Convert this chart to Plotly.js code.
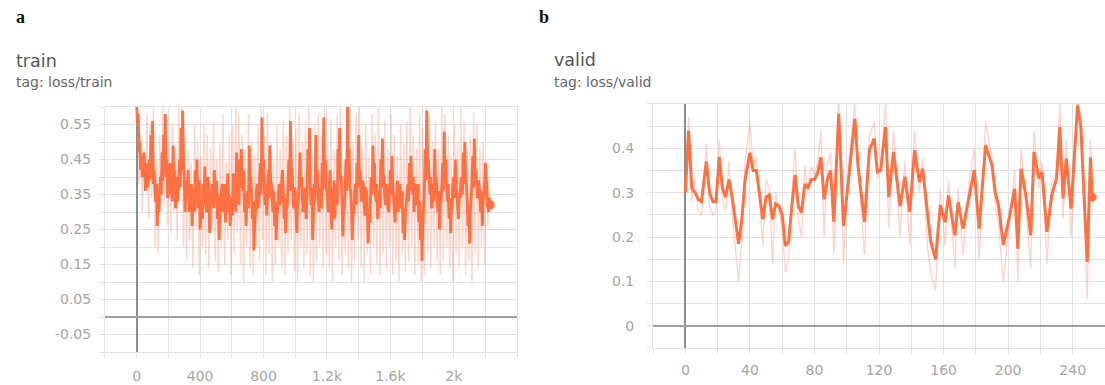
<!DOCTYPE html>
<html><head><meta charset="utf-8">
<script src="https://cdn.plot.ly/plotly-3.0.1.min.js"></script>
<style>html,body{margin:0;padding:0;background:#fff;} #chart{width:1105px;height:385px;}</style>
</head><body><div id="chart"></div>
<script>
// ---- train (panel a): smoothed loss, logged every 5 steps from step 0
const trainSmoothed = [
0.60,0.55,0.58,0.47,0.50,0.42,0.46,0.40,0.43,0.47,0.44,0.36,0.40,0.44,0.37,0.41,0.45,0.39,0.52,0.44,
0.56,0.38,0.42,0.36,0.33,0.38,0.26,0.35,0.30,0.37,0.40,0.35,0.47,0.39,0.52,0.41,0.58,0.40,0.45,0.34,
0.38,0.41,0.44,0.35,0.40,0.33,0.49,0.37,0.42,0.31,0.36,0.40,0.33,0.38,0.45,0.37,0.54,0.42,0.59,0.45,
0.40,0.30,0.34,0.39,0.38,0.42,0.30,0.37,0.33,0.38,0.26,0.32,0.37,0.30,0.42,0.34,0.45,0.31,0.35,0.39,
0.25,0.31,0.33,0.28,0.38,0.32,0.43,0.33,0.30,0.36,0.40,0.33,0.24,0.36,0.32,0.38,0.37,0.31,0.42,0.35,
0.33,0.39,0.28,0.35,0.22,0.31,0.30,0.36,0.38,0.30,0.33,0.38,0.27,0.32,0.36,0.41,0.30,0.35,0.26,0.31,
0.34,0.29,0.41,0.33,0.36,0.30,0.47,0.35,0.38,0.32,0.45,0.37,0.48,0.39,0.36,0.42,0.30,0.35,0.26,0.33,
0.36,0.31,0.49,0.38,0.40,0.34,0.28,0.33,0.19,0.27,0.30,0.36,0.38,0.31,0.33,0.39,0.44,0.35,0.57,0.41,
0.45,0.37,0.32,0.38,0.29,0.35,0.42,0.34,0.49,0.39,0.38,0.33,0.30,0.36,0.26,0.33,0.22,0.30,0.30,0.36,
0.38,0.32,0.34,0.39,0.42,0.35,0.28,0.34,0.24,0.31,0.32,0.38,0.45,0.36,0.56,0.42,0.42,0.36,0.31,0.37,
0.36,0.30,0.24,0.32,0.33,0.39,0.47,0.38,0.40,0.34,0.30,0.37,0.36,0.31,0.28,0.35,0.48,0.40,0.54,0.38,
0.32,0.37,0.22,0.30,0.38,0.33,0.52,0.40,0.42,0.35,0.30,0.37,0.35,0.31,0.44,0.36,0.57,0.42,0.45,0.37,
0.36,0.32,0.30,0.37,0.42,0.34,0.25,0.32,0.34,0.39,0.28,0.35,0.38,0.32,0.48,0.39,0.54,0.40,0.40,0.33,
0.23,0.30,0.31,0.37,0.45,0.36,0.60,0.43,0.48,0.37,0.36,0.31,0.22,0.30,0.30,0.36,0.38,0.32,0.44,0.37,
0.52,0.39,0.42,0.34,0.33,0.39,0.38,0.32,0.29,0.37,0.36,0.30,0.21,0.29,0.27,0.34,0.40,0.35,0.49,0.38,
0.44,0.36,0.33,0.38,0.28,0.34,0.36,0.31,0.45,0.37,0.51,0.40,0.40,0.34,0.32,0.38,0.36,0.31,0.30,0.36,
0.42,0.35,0.46,0.38,0.35,0.30,0.27,0.34,0.34,0.39,0.30,0.36,0.38,0.33,0.31,0.36,0.24,0.31,0.22,0.29,
0.32,0.37,0.38,0.33,0.44,0.36,0.46,0.38,0.35,0.40,0.30,0.36,0.38,0.32,0.33,0.38,0.27,0.33,0.22,0.30,
0.16,0.26,0.30,0.37,0.48,0.39,0.59,0.44,0.45,0.37,0.35,0.40,0.31,0.36,0.38,0.33,0.48,0.38,0.40,0.34,
0.30,0.36,0.25,0.32,0.33,0.38,0.44,0.36,0.53,0.41,0.45,0.37,0.33,0.38,0.28,0.34,0.24,0.31,0.32,0.38,
0.40,0.34,0.45,0.37,0.36,0.31,0.28,0.35,0.34,0.39,0.40,0.35,0.47,0.38,0.50,0.40,0.38,0.33,0.26,0.32,
0.21,0.30,0.34,0.39,0.46,0.37,0.51,0.40,0.42,0.35,0.34,0.39,0.38,0.33,0.30,0.36,0.26,0.32,0.35,0.39,
0.44,0.37,0.36,0.32,0.30,0.34,0.32];
// raw (unsmoothed) train loss, logged every 10 steps from step 5
const trainRaw = [
0.60,0.38,0.52,0.30,0.48,0.36,0.58,0.28,0.55,0.34,
0.60,0.20,0.45,0.18,0.52,0.30,0.60,0.32,0.58,0.26,
0.50,0.24,0.55,0.30,0.48,0.22,0.60,0.36,0.60,0.20,
0.52,0.16,0.48,0.22,0.44,0.14,0.55,0.25,0.50,0.12,
0.46,0.20,0.55,0.18,0.52,0.14,0.48,0.26,0.56,0.16,
0.45,0.13,0.50,0.20,0.58,0.15,0.44,0.22,0.52,0.12,
0.55,0.18,0.60,0.24,0.58,0.15,0.52,0.10,0.48,0.20,
0.58,0.14,0.50,0.12,0.46,0.20,0.55,0.16,0.60,0.22,
0.52,0.12,0.58,0.18,0.50,0.10,0.44,0.15,0.55,0.20,
0.48,0.14,0.56,0.12,0.52,0.18,0.60,0.22,0.50,0.13,
0.54,0.10,0.58,0.20,0.50,0.14,0.56,0.18,0.60,0.12,
0.46,0.10,0.55,0.16,0.58,0.20,0.52,0.14,0.60,0.18,
0.50,0.14,0.56,0.10,0.48,0.20,0.58,0.16,0.60,0.12,
0.44,0.18,0.55,0.14,0.60,0.10,0.50,0.16,0.58,0.22,
0.60,0.14,0.48,0.10,0.55,0.18,0.46,0.12,0.58,0.20,
0.52,0.15,0.60,0.12,0.50,0.18,0.56,0.14,0.48,0.20,
0.58,0.12,0.52,0.16,0.46,0.10,0.55,0.18,0.50,0.13,
0.56,0.16,0.60,0.20,0.52,0.12,0.48,0.15,0.58,0.10,
0.54,0.12,0.60,0.18,0.58,0.14,0.50,0.20,0.56,0.16,
0.48,0.12,0.60,0.16,0.58,0.20,0.52,0.14,0.46,0.10,
0.55,0.18,0.50,0.14,0.60,0.20,0.56,0.12,0.48,0.16,
0.52,0.10,0.58,0.18,0.55,0.14,0.48,0.20,0.50,0.15,
0.45,0.26,0.40];
const trainSmoothStart = 0, trainSmoothEvery = 5;
const trainRawStart = 5, trainRawEvery = 10;

// ---- valid (panel b)
const validSteps = [0,2,4,6,8,10,13,15,17,19,21,23,25,27,29,31,33,35,37,40,42,44,46,48,50,52,54,56,58,60,62,64,66,68,70,72,74,76,78,80,82,84,86,88,90,92,95,98,101,105,107,111,114,117,119,121,124,126,129,133,136,139,142,145,147,150,152,155,158,161,163,167,169,172,176,179,182,186,190,192,194,197,201,204,206,208,211,214,216,219,221,224,227,230,232,234,236,239,243,245,249,251,252];
const validSmoothed = [
0.30,0.44,0.31,0.30,0.285,0.28,0.37,0.30,0.28,0.28,
0.38,0.31,0.29,0.33,0.29,0.24,0.185,0.24,0.33,0.39,
0.35,0.35,0.30,0.24,0.29,0.295,0.24,0.275,0.27,0.25,
0.18,0.19,0.27,0.34,0.27,0.255,0.32,0.31,0.33,0.33,
0.345,0.38,0.285,0.33,0.35,0.235,0.478,0.225,0.325,0.467,
0.36,0.234,0.396,0.422,0.347,0.35,0.448,0.29,0.392,0.27,
0.336,0.257,0.396,0.324,0.354,0.25,0.19,0.15,0.272,0.234,
0.294,0.204,0.279,0.219,0.294,0.351,0.219,0.407,0.362,0.30,
0.272,0.182,0.249,0.309,0.174,0.354,0.294,0.204,0.392,0.332,
0.347,0.212,0.294,0.332,0.448,0.287,0.377,0.264,0.497,0.45,
0.144,0.38,0.29];
const validRaw = [
0.30,0.47,0.28,0.33,0.26,0.25,0.41,0.27,0.25,0.26,
0.42,0.28,0.26,0.37,0.25,0.18,0.10,0.20,0.37,0.46,
0.36,0.38,0.27,0.18,0.33,0.31,0.14,0.30,0.26,0.22,
0.12,0.15,0.30,0.40,0.24,0.20,0.36,0.30,0.36,0.34,
0.37,0.44,0.20,0.36,0.39,0.16,0.52,0.14,0.36,0.50,
0.35,0.16,0.43,0.46,0.33,0.36,0.50,0.22,0.44,0.20,
0.37,0.18,0.44,0.30,0.38,0.18,0.12,0.08,0.31,0.18,
0.33,0.13,0.31,0.16,0.33,0.40,0.15,0.46,0.38,0.27,
0.23,0.10,0.24,0.35,0.10,0.40,0.27,0.13,0.44,0.31,
0.37,0.14,0.32,0.35,0.50,0.24,0.42,0.20,0.52,0.44,
0.06,0.42,0.29];

// ---- tick labels
const trainXTickVals = [0,400,800,1200,1600,2000];
const trainXTickText = ["0","400","800","1.2k","1.6k","2k"];
const trainYTickVals = [-0.05,0.05,0.15,0.25,0.35,0.45,0.55];
const trainYTickText = ["-0.05","0.05","0.15","0.25","0.35","0.45","0.55"];
const validXTickVals = [0,40,80,120,160,200,240];
const validXTickText = ["0","40","80","120","160","200","240"];
const validYTickVals = [0,0.1,0.2,0.3,0.4];
const validYTickText = ["0","0.1","0.2","0.3","0.4"];

const ORANGE = '#ff7043';
const RAW = 'rgba(255,120,90,0.32)';
const GRID = '#e2e2e2';
const tickFont = {family: 'DejaVu Sans, sans-serif', size: 14, color: '#a6a6a6'};

const trainLastX = trainSmoothStart + (trainSmoothed.length - 1) * trainSmoothEvery;
const traces = [
  {type:'scatter', mode:'lines', x0: trainRawStart, dx: trainRawEvery, y: trainRaw,
   line:{color:RAW, width:1.4}, xaxis:'x', yaxis:'y', hoverinfo:'skip'},
  {type:'scatter', mode:'lines', x0: trainSmoothStart, dx: trainSmoothEvery, y: trainSmoothed,
   line:{color:ORANGE, width:2.8}, xaxis:'x', yaxis:'y'},
  {type:'scatter', mode:'markers', x:[trainLastX], y:[trainSmoothed[trainSmoothed.length-1]],
   marker:{color:ORANGE, size:9}, xaxis:'x', yaxis:'y'},
  {type:'scatter', mode:'lines', x: validSteps, y: validRaw,
   line:{color:RAW, width:1.4}, xaxis:'x2', yaxis:'y2', hoverinfo:'skip'},
  {type:'scatter', mode:'lines', x: validSteps, y: validSmoothed,
   line:{color:ORANGE, width:3}, xaxis:'x2', yaxis:'y2'},
  {type:'scatter', mode:'markers', x:[validSteps[validSteps.length-1]], y:[validSmoothed[validSmoothed.length-1]],
   marker:{color:ORANGE, size:9}, xaxis:'x2', yaxis:'y2'}
];

function axisBase(extra){
  return Object.assign({
    showgrid:true, gridcolor:GRID, gridwidth:1,
    showline:true, mirror:true, linecolor:GRID, linewidth:1,
    ticks:'outside', ticklen:5, tickcolor:GRID,
    tickfont: tickFont, tickmode:'array', fixedrange:true,
    zeroline:true, zerolinewidth:2
  }, extra);
}

const layout = {
  width:1105, height:385,
  margin:{l:0,r:0,t:0,b:0},
  paper_bgcolor:'#ffffff', plot_bgcolor:'#ffffff',
  showlegend:false,
  xaxis: axisBase({domain:[0.095,0.468], range:[-200,2400], anchor:'y',
    tickvals: trainXTickVals, ticktext: trainXTickText, ticklabelstandoff:6,
    zerolinecolor:'#8c8c8c',
    minor:{dtick:200, tick0:0, showgrid:true, gridcolor:GRID, ticks:'outside', ticklen:5, tickcolor:GRID}}),
  yaxis: axisBase({domain:[0.0857,0.722], range:[-0.1,0.6], anchor:'x',
    tickvals: trainYTickVals, ticktext: trainYTickText, ticklabelstandoff:5,
    zerolinecolor:'#a0a0a0',
    minor:{dtick:0.05, tick0:0, showgrid:true, gridcolor:GRID, ticks:'outside', ticklen:5, tickcolor:GRID}}),
  xaxis2: axisBase({domain:[0.591,1], range:[-20,260], anchor:'y2',
    tickvals: validXTickVals, ticktext: validXTickText, ticklabelstandoff:4,
    zerolinecolor:'#8c8c8c',
    minor:{dtick:20, tick0:0, showgrid:true, gridcolor:GRID, ticks:'outside', ticklen:5, tickcolor:GRID}}),
  yaxis2: axisBase({domain:[0.0961,0.7299], range:[-0.05,0.5], anchor:'x2',
    tickvals: validYTickVals, ticktext: validYTickText, ticklabelstandoff:10,
    zerolinecolor:'#a0a0a0',
    minor:{dtick:0.05, tick0:0, showgrid:true, gridcolor:GRID, ticks:'outside', ticklen:5, tickcolor:GRID}}),
  annotations: [
    {text:'<b>a</b>', x:14/1105, y:1-17/385, xref:'paper', yref:'paper', xanchor:'left', yanchor:'middle', showarrow:false,
     font:{family:'Liberation Serif, serif', size:18, color:'#111'}},
    {text:'<b>b</b>', x:537/1105, y:1-17/385, xref:'paper', yref:'paper', xanchor:'left', yanchor:'middle', showarrow:false,
     font:{family:'Liberation Serif, serif', size:18, color:'#111'}},
    {text:'train', x:14/1105, y:1-61/385, xref:'paper', yref:'paper', xanchor:'left', yanchor:'middle', showarrow:false,
     font:{family:'DejaVu Sans, sans-serif', size:17.5, color:'#555'}},
    {text:'tag: loss/train', x:14/1105, y:1-82/385, xref:'paper', yref:'paper', xanchor:'left', yanchor:'middle', showarrow:false,
     font:{family:'DejaVu Sans, sans-serif', size:14, color:'#666'}},
    {text:'valid', x:552/1105, y:1-60/385, xref:'paper', yref:'paper', xanchor:'left', yanchor:'middle', showarrow:false,
     font:{family:'DejaVu Sans, sans-serif', size:17.5, color:'#555'}},
    {text:'tag: loss/valid', x:552/1105, y:1-82/385, xref:'paper', yref:'paper', xanchor:'left', yanchor:'middle', showarrow:false,
     font:{family:'DejaVu Sans, sans-serif', size:14, color:'#666'}}
  ]
};

Plotly.newPlot('chart', traces, layout, {displayModeBar:false, staticPlot:true});
</script>
</body></html>
